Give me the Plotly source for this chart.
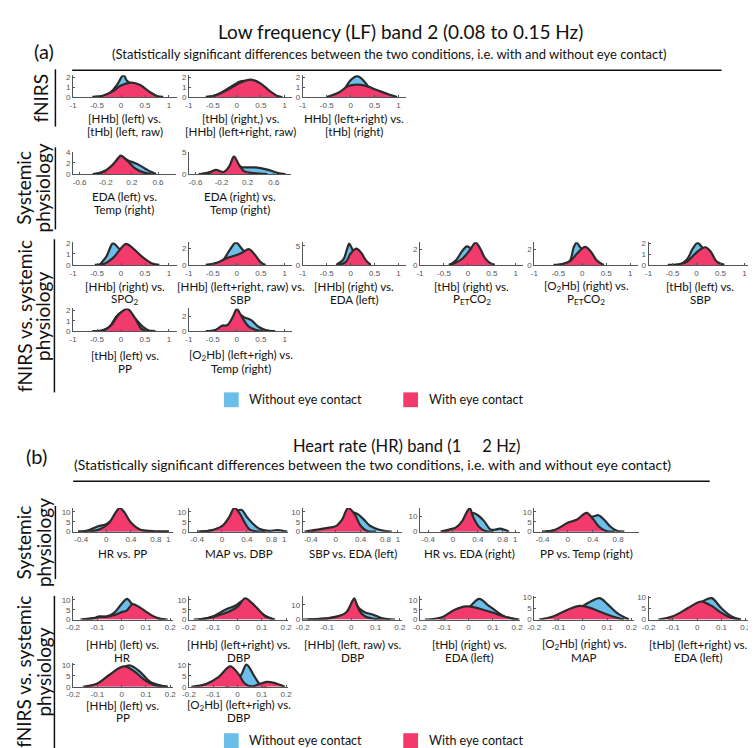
import plotly.graph_objects as go

# ------------------------------------------------------------------
# DATA  -- density outlines (x, y)
# ------------------------------------------------------------------
# Panel (a) fNIRS row
a_fnirs1_without = [(-0.55, 0), (-0.35, 0.1), (-0.22, 0.45), (-0.08, 1.25), (0.05, 2.2), (0.13, 1.6), (0.3, 1.1), (0.5, 0.4), (0.7, 0)]
a_fnirs1_with = [(-0.6, 0), (-0.4, 0.1), (-0.2, 0.5), (0.0, 1.15), (0.22, 1.45), (0.4, 1.2), (0.6, 0.5), (0.75, 0.1), (0.88, 0)]
a_fnirs2_without = [(-0.6, 0), (-0.4, 0.25), (-0.2, 0.8), (0.0, 1.4), (0.1, 1.6), (0.3, 1.5), (0.5, 0.9), (0.7, 0.2), (0.85, 0)]
a_fnirs2_with = [(-0.65, 0), (-0.45, 0.15), (-0.2, 0.7), (0.05, 1.4), (0.3, 1.75), (0.5, 1.35), (0.7, 0.55), (0.85, 0.1), (0.95, 0)]
a_fnirs3_without = [(-0.35, 0), (-0.15, 0.7), (0.0, 1.7), (0.14, 2.1), (0.28, 1.6), (0.45, 0.5), (0.6, 0)]
a_fnirs3_with = [(-0.5, 0), (-0.25, 0.45), (-0.05, 1.1), (0.12, 1.25), (0.3, 1.15), (0.55, 0.7), (0.8, 0.25), (0.97, 0)]
# Panel (a) systemic physiology row
a_sys1_without = [(-0.35, 0), (-0.1, 1.2), (0.05, 2.9), (0.15, 2.4), (0.28, 1.8), (0.4, 1.0), (0.5, 0.35), (0.57, 0)]
a_sys1_with = [(-0.4, 0), (-0.25, 0.3), (-0.1, 1.6), (0.0, 3.0), (0.03, 3.3), (0.12, 2.5), (0.25, 1.0), (0.4, 0.2), (0.5, 0)]
a_sys2_without = [(-0.5, 0), (-0.3, 0.6), (-0.15, 0.5), (0.0, 2.6), (0.1, 1.6), (0.2, 1.5), (0.35, 1.45), (0.5, 1.0), (0.65, 0.3), (0.78, 0)]
a_sys2_with = [(-0.55, 0), (-0.4, 0.2), (-0.29, 0.95), (-0.17, 0.45), (-0.08, 1.8), (-0.01, 3.9), (0.07, 2.0), (0.15, 0.6), (0.3, 0.2), (0.5, 0)]
# Panel (a) fNIRS vs. systemic physiology
a_mix1_without = [(-0.45, 0), (-0.3, 0.8), (-0.17, 1.95), (-0.05, 1.5), (0.1, 0.9), (0.3, 0.3), (0.5, 0)]
a_mix1_with = [(-0.55, 0), (-0.35, 0.1), (-0.15, 0.7), (0.0, 1.5), (0.1, 1.9), (0.25, 1.5), (0.45, 0.7), (0.65, 0.12), (0.8, 0)]
a_mix2_without = [(-0.5, 0), (-0.3, 0.5), (-0.15, 1.8), (-0.02, 2.7), (0.1, 2.0), (0.2, 1.2), (0.35, 0.4), (0.5, 0)]
a_mix2_with = [(-0.65, 0), (-0.4, 0.3), (-0.2, 0.85), (0.0, 1.2), (0.12, 1.5), (0.25, 1.92), (0.38, 1.2), (0.5, 0.3), (0.6, 0)]
a_mix3_without = [(-0.3, 0), (-0.15, 1.5), (-0.08, 4.0), (-0.03, 5.6), (0.02, 4.5), (0.1, 2.5), (0.25, 0.8), (0.35, 0)]
a_mix3_with = [(-0.25, 0), (-0.1, 0.8), (0.0, 3.0), (0.12, 4.3), (0.22, 3.2), (0.32, 1.2), (0.42, 0)]
a_mix4_without = [(-0.38, 0), (-0.25, 0.6), (-0.12, 1.8), (-0.02, 2.4), (0.08, 2.0), (0.2, 1.2), (0.35, 0.4), (0.5, 0)]
a_mix4_with = [(-0.4, 0), (-0.25, 0.3), (-0.1, 0.9), (0.05, 2.0), (0.16, 2.9), (0.25, 2.2), (0.35, 0.95), (0.45, 0.3), (0.56, 0)]
a_mix5_without = [(-0.35, 0), (-0.25, 0.6), (-0.18, 2.2), (-0.12, 2.83), (-0.05, 2.3), (0.05, 1.6), (0.2, 0.6), (0.35, 0)]
a_mix5_with = [(-0.6, 0), (-0.4, 0.15), (-0.25, 0.5), (-0.1, 1.5), (0.06, 2.3), (0.18, 1.7), (0.3, 0.6), (0.45, 0)]
a_mix6_without = [(-0.35, 0), (-0.2, 0.5), (-0.08, 1.5), (0.02, 2.03), (0.12, 1.6), (0.25, 0.8), (0.45, 0)]
a_mix6_with = [(-0.6, 0), (-0.4, 0.05), (-0.2, 0.3), (-0.05, 0.95), (0.1, 1.5), (0.19, 1.63), (0.3, 1.2), (0.42, 0.3), (0.58, 0)]
a_mix7_without = [(-0.45, 0), (-0.25, 0.4), (-0.1, 1.4), (0.0, 1.8), (0.15, 1.8), (0.3, 1.2), (0.45, 0.45), (0.6, 0)]
a_mix7_with = [(-0.6, 0), (-0.35, 0.1), (-0.2, 0.6), (-0.05, 1.6), (0.13, 2.15), (0.3, 1.2), (0.42, 0.25), (0.55, 0.05), (0.72, 0)]
a_mix8_without = [(-0.5, 0), (-0.3, 0.5), (-0.15, 1.0), (0.0, 2.4), (0.15, 1.9), (0.3, 1.5), (0.45, 0.6), (0.6, 0.15), (0.8, 0)]
a_mix8_with = [(-0.65, 0), (-0.45, 0.15), (-0.3, 0.75), (-0.2, 0.8), (-0.08, 2.0), (0.0, 3.0), (0.1, 2.0), (0.25, 0.6), (0.4, 0.15), (0.55, 0)]

# Panel (b) systemic physiology row
b_sys1_without = [(-0.45, 0), (-0.3, 0.6), (-0.15, 2.5), (0.0, 3.8), (0.1, 6), (0.2, 9), (0.35, 6), (0.5, 1.5), (0.7, 0.3), (1.0, 0)]
b_sys1_with = [(-0.45, 0), (-0.25, 0.2), (-0.1, 1.2), (0.05, 4.5), (0.15, 9.5), (0.22, 12), (0.3, 9.5), (0.4, 4.5), (0.55, 1.0), (0.75, 0.3), (1.0, 0)]
b_sys2_without = [(-0.35, 0), (-0.1, 1.0), (0.05, 3.0), (0.15, 6.5), (0.25, 10.5), (0.32, 11), (0.4, 7.5), (0.5, 4.0), (0.6, 1.5), (0.75, 0.4), (0.9, 0.8), (1.05, 0)]
b_sys2_with = [(-0.4, 0), (-0.2, 0.5), (0.0, 2.8), (0.12, 7.5), (0.2, 12), (0.28, 9.5), (0.36, 5), (0.45, 1.0), (0.55, 0.2), (0.7, 0)]
b_sys3_without = [(-0.45, 0), (-0.25, 0.8), (-0.05, 1.5), (0.1, 4.5), (0.25, 9.5), (0.35, 9.0), (0.45, 6.2), (0.55, 3.0), (0.7, 1.0), (0.9, 0)]
b_sys3_with = [(-0.5, 0), (-0.3, 1.0), (-0.15, 1.8), (0.0, 2.8), (0.1, 6), (0.2, 12), (0.3, 9), (0.4, 3), (0.5, 0.5), (0.65, 0)]
b_sys4_without = [(-0.15, 0), (0.0, 1.5), (0.15, 5), (0.25, 10), (0.33, 12), (0.4, 10.6), (0.5, 6.8), (0.6, 1.5), (0.68, 1.3), (0.76, 2.0), (0.9, 0)]
b_sys4_with = [(-0.2, 0), (-0.05, 1.5), (0.05, 2.8), (0.15, 7), (0.22, 12.5), (0.27, 15), (0.33, 9), (0.42, 3), (0.52, 0.4), (0.65, 0)]
b_sys5_without = [(-0.35, 0), (-0.1, 1.0), (0.1, 4), (0.3, 7), (0.42, 7.8), (0.49, 8.3), (0.58, 6), (0.68, 2.5), (0.78, 0.5), (0.9, 0)]
b_sys5_with = [(-0.4, 0), (-0.2, 1.0), (0.0, 4.5), (0.15, 6.2), (0.3, 9.5), (0.4, 6.5), (0.5, 2.5), (0.6, 0.5), (0.75, 0)]
# Panel (b) fNIRS vs. systemic physiology
b_mix1_without = [(-0.16, 0), (-0.12, 0.6), (-0.09, 1.6), (-0.06, 1.6), (-0.03, 3.5), (0.0, 8), (0.022, 10.5), (0.045, 7.5), (0.07, 5), (0.1, 3), (0.14, 0.8), (0.18, 0)]
b_mix1_with = [(-0.17, 0), (-0.12, 0.6), (-0.09, 1.3), (-0.06, 1.5), (-0.03, 2.3), (0.0, 3.8), (0.02, 4.5), (0.045, 7.8), (0.07, 6.5), (0.1, 4), (0.13, 1.7), (0.16, 0.4), (0.19, 0)]
b_mix2_without = [(-0.16, 0), (-0.1, 1.7), (-0.05, 5), (-0.01, 7), (0.03, 10), (0.06, 8), (0.1, 3), (0.15, 0)]
b_mix2_with = [(-0.18, 0), (-0.13, 0.5), (-0.09, 1.7), (-0.05, 3.3), (0.0, 6.5), (0.032, 10.8), (0.06, 8.3), (0.087, 5), (0.114, 1.7), (0.155, 0)]
b_mix3_without = [(-0.18, 0), (-0.1, 0.8), (-0.05, 2.0), (-0.02, 4.5), (0.0, 9), (0.015, 12), (0.03, 8), (0.055, 5), (0.09, 3.3), (0.125, 1.1), (0.18, 0)]
b_mix3_with = [(-0.2, 0), (-0.1, 0.8), (-0.05, 2.5), (-0.02, 5), (0.0, 11), (0.012, 14.4), (0.025, 9), (0.04, 4.5), (0.06, 2), (0.1, 0.5), (0.16, 0)]
b_mix4_without = [(-0.12, 0), (-0.05, 2), (0.0, 6), (0.044, 10.5), (0.078, 7.5), (0.11, 4.6), (0.15, 1.5), (0.2, 0)]
b_mix4_with = [(-0.18, 0), (-0.11, 1.2), (-0.057, 5), (-0.01, 6.7), (0.037, 5.8), (0.07, 4.6), (0.105, 3.3), (0.14, 1.8), (0.173, 0.8), (0.21, 0)]
b_mix5_without = [(-0.12, 0), (-0.05, 2.5), (0.0, 6), (0.04, 8.5), (0.07, 9.5), (0.1, 7), (0.14, 3), (0.19, 0)]
b_mix5_with = [(-0.18, 0), (-0.12, 1.5), (-0.06, 4.5), (-0.02, 6), (0.02, 5.5), (0.07, 3.5), (0.12, 1.5), (0.17, 0)]
b_mix6_without = [(-0.12, 0), (-0.05, 2.5), (0.0, 6.5), (0.04, 9), (0.06, 9.5), (0.1, 5), (0.14, 1.5), (0.18, 0)]
b_mix6_with = [(-0.16, 0), (-0.1, 1.5), (-0.04, 5), (0.0, 7.5), (0.02, 8), (0.06, 6), (0.1, 3), (0.14, 0.8), (0.18, 0)]
b_mix7_without = [(-0.15, 0), (-0.1, 1.3), (-0.05, 5), (0.0, 8.5), (0.035, 9.7), (0.077, 6.7), (0.118, 2.2), (0.19, 0)]
b_mix7_with = [(-0.16, 0), (-0.1, 1.5), (-0.05, 5.5), (0.008, 9.3), (0.05, 7.2), (0.09, 3.5), (0.13, 1.0), (0.19, 0)]
b_mix8_without = [(-0.05, 0), (-0.01, 2), (0.016, 5.5), (0.037, 10.1), (0.071, 4.5), (0.092, 1.2), (0.12, 0)]
b_mix8_with = [(-0.19, 0), (-0.13, 1.2), (-0.077, 4.5), (-0.03, 9.3), (0.003, 6), (0.03, 1.5), (0.06, 0.2), (0.09, 1.2), (0.12, 2.2), (0.15, 1.8), (0.195, 0)]

# Subplot captions
a_fnirs_labels = [("[HHb] (left) vs.", "[tHb] (left, raw)"), ("[tHb] (right,) vs.", "[HHb] (left+right, raw)"), ("HHb] (left+right) vs.", "[tHb] (right)")]
a_sys_labels = [("EDA (left) vs.", "Temp (right)"), ("EDA (right) vs.", "Temp (right)")]
a_mix_labels = [("[HHb] (right) vs.", "SPO<sub>2</sub>"), ("[HHb] (left+right, raw) vs.", "SBP"), ("[HHb] (right) vs.", "EDA (left)"),
                ("[tHb] (right) vs.", "P<sub>ET</sub>CO<sub>2</sub>"), ("[O<sub>2</sub>Hb] (right) vs.", "P<sub>ET</sub>CO<sub>2</sub>"), ("[tHb] (left) vs.", "SBP"),
                ("[tHb] (left) vs.", "PP"), ("[O<sub>2</sub>Hb] (left+righ) vs.", "Temp (right)")]
b_sys_labels = [("HR vs. PP",), ("MAP vs. DBP",), ("SBP vs. EDA (left)",), ("HR vs. EDA (right)",), ("PP vs. Temp (right)",)]
b_mix_labels = [("[HHb] (left) vs.", "HR"), ("[HHb] (left+right) vs.", "DBP"), ("[HHb] (left, raw) vs.", "DBP"),
                ("[tHb] (right) vs.", "EDA (left)"), ("[O<sub>2</sub>Hb] (right) vs.", "MAP"), ("[tHb] (left+right) vs.", "EDA (left)"),
                ("[HHb] (left) vs.", "PP"), ("[O<sub>2</sub>Hb] (left+righ) vs.", "DBP")]

# Axis tick sets
ticks_a = [-1, -0.5, 0, 0.5, 1]
ticks_a_sys = [-0.6, -0.2, 0.2, 0.6]
ticks_b_sys = [-0.4, 0, 0.4, 0.8, 1]
ticks_b_sys5 = [-0.4, 0, 0.4, 0.8]
ticks_b_mix = [-0.2, -0.1, 0, 0.1, 0.2]

legend_names = ["Without eye contact", "With eye contact"]

# ------------------------------------------------------------------
# LAYOUT (pixel geometry)
# ------------------------------------------------------------------
W, H = 756, 748
BLUE = "#6CBEEA"
RED = "#F23B6C"
EDGE = "#2B2B2B"
TICKC = "#555555"
FONT = "Lato"
CAP = 11.6

COLS = [59, 176.5, 292, 411, 527, 643]
# row: baseline y, top y, caption line1 y, caption line2 y
ROWS = {
    "A1": (86, 64, 107.5, 120.5),
    "A2": (164, 141.5, 186.5, 199.5),
    "A3": (256, 233, 277.5, 290.5),
    "A4": (323, 300, 347.5, 360.5),
    "B1": (526, 502, 548, None),
    "B2": (615, 591, 640.5, 653.5),
    "B3": (683, 659, 701.5, 714.5),
}

XR_A = [-1, 1.16]
XR_AS = [-0.7, 0.87]
XR_BS = [-0.53, 1.07]
XR_BS5 = [-0.53, 1.13]
XR_BM = [-0.2, 0.21]


def fmt(v):
    return "%g" % v


panels = [
    # row, col, width, xrange, xticks, ymax, yticks, without, with, caption
    ("A1", 0, 105, XR_A, ticks_a, 2.2, [0, 1, 2], a_fnirs1_without, a_fnirs1_with, a_fnirs_labels[0]),
    ("A1", 1, 105, XR_A, ticks_a, 2.2, [0, 1, 2], a_fnirs2_without, a_fnirs2_with, a_fnirs_labels[1]),
    ("A1", 2, 105, XR_A, ticks_a, 2.2, [0, 1, 2], a_fnirs3_without, a_fnirs3_with, a_fnirs_labels[2]),
    ("A2", 0, 104, XR_AS, ticks_a_sys, 4, [0, 2, 4], a_sys1_without, a_sys1_with, a_sys_labels[0]),
    ("A2", 1, 104, XR_AS, ticks_a_sys, 5, [0, 5], a_sys2_without, a_sys2_with, a_sys_labels[1]),
    ("A3", 0, 105, XR_A, ticks_a, 2.05, [0, 1, 2], a_mix1_without, a_mix1_with, a_mix_labels[0]),
    ("A3", 1, 105, XR_A, ticks_a, 2.75, [0, 2], a_mix2_without, a_mix2_with, a_mix_labels[1]),
    ("A3", 2, 105, XR_A, ticks_a, 6, [0, 5], a_mix3_without, a_mix3_with, a_mix_labels[2]),
    ("A3", 3, 105, XR_A, ticks_a, 2.95, [0, 2], a_mix4_without, a_mix4_with, a_mix_labels[3]),
    ("A3", 4, 105, XR_A, ticks_a, 2.9, [0, 2], a_mix5_without, a_mix5_with, a_mix_labels[4]),
    ("A3", 5, 105, XR_A, ticks_a, 2.1, [0, 1, 2], a_mix6_without, a_mix6_with, a_mix_labels[5]),
    ("A4", 0, 105, XR_A, ticks_a, 2.2, [0, 1, 2], a_mix7_without, a_mix7_with, a_mix_labels[6]),
    ("A4", 1, 105, XR_A, ticks_a, 3.1, [0, 2], a_mix8_without, a_mix8_with, a_mix_labels[7]),
    ("B1", 0, 101, XR_BS, ticks_b_sys, 12, [0, 5, 10], b_sys1_without, b_sys1_with, b_sys_labels[0]),
    ("B1", 1, 101, XR_BS, ticks_b_sys, 12, [0, 5, 10], b_sys2_without, b_sys2_with, b_sys_labels[1]),
    ("B1", 2, 101, XR_BS, ticks_b_sys, 12, [0, 5, 10], b_sys3_without, b_sys3_with, b_sys_labels[2]),
    ("B1", 3, 101, XR_BS, ticks_b_sys, 15.3, [0, 10], b_sys4_without, b_sys4_with, b_sys_labels[3]),
    ("B1", 4, 106, XR_BS5, ticks_b_sys5, 12, [0, 5, 10], b_sys5_without, b_sys5_with, b_sys_labels[4]),
    ("B2", 0, 101, XR_BM, ticks_b_mix, 12, [0, 5, 10], b_mix1_without, b_mix1_with, b_mix_labels[0]),
    ("B2", 1, 101, XR_BM, ticks_b_mix, 12, [0, 5, 10], b_mix2_without, b_mix2_with, b_mix_labels[1]),
    ("B2", 2, 101, XR_BM, ticks_b_mix, 16, [0, 10], b_mix3_without, b_mix3_with, b_mix_labels[2]),
    ("B2", 3, 101, XR_BM, ticks_b_mix, 12, [0, 5, 10], b_mix4_without, b_mix4_with, b_mix_labels[3]),
    ("B2", 4, 101, XR_BM, ticks_b_mix, 10.5, [0, 5, 10], b_mix5_without, b_mix5_with, b_mix_labels[4]),
    ("B2", 5, 101, XR_BM, ticks_b_mix, 10.5, [0, 5, 10], b_mix6_without, b_mix6_with, b_mix_labels[5]),
    ("B3", 0, 101, XR_BM, ticks_b_mix, 10.8, [0, 5, 10], b_mix7_without, b_mix7_with, b_mix_labels[6]),
    ("B3", 1, 101, XR_BM, ticks_b_mix, 10.8, [0, 5, 10], b_mix8_without, b_mix8_with, b_mix_labels[7]),
]


def px(x):
    return x / W


def py(y):
    return 1 - y / H


fig = go.Figure()
layout = dict(
    width=W, height=H, margin=dict(l=0, r=0, t=0, b=0),
    paper_bgcolor="white", plot_bgcolor="rgba(0,0,0,0)",
    showlegend=False, font=dict(family=FONT, color="#111"),
)
annotations = []
shapes = []

for i, (row, col, wpx, xr, xt, ymax, yt, wo, wi, cap) in enumerate(panels, start=1):
    base, top, c1, c2 = ROWS[row]
    x0 = COLS[col]
    x1 = x0 + wpx
    sfx = "" if i == 1 else str(i)
    for series, color in ((wo, BLUE), (wi, RED)):
        fig.add_trace(go.Scatter(
            x=[p[0] for p in series], y=[p[1] for p in series],
            mode="lines", fill="tozeroy", fillcolor=color,
            line=dict(color=EDGE, width=2.2, shape="spline", smoothing=1.0),
            xaxis="x" + sfx, yaxis="y" + sfx, hoverinfo="skip", showlegend=False,
        ))
    layout["xaxis" + sfx] = dict(
        domain=[px(x0), px(x1)], anchor="y" + sfx, range=xr,
        tickvals=xt, ticktext=[fmt(v) for v in xt],
        showline=True, linecolor=TICKC, linewidth=1, ticks="inside", ticklen=2, tickcolor=TICKC,
        tickfont=dict(size=8, color=TICKC, family="Liberation Sans"),
        showgrid=False, zeroline=False, fixedrange=True,
    )
    layout["yaxis" + sfx] = dict(
        domain=[py(base), py(top)], anchor="x" + sfx, range=[0, ymax],
        tickvals=yt, ticktext=[fmt(v) for v in yt],
        showline=True, linecolor=TICKC, linewidth=1, ticks="inside", ticklen=2, tickcolor=TICKC,
        tickfont=dict(size=8, color=TICKC, family="Liberation Sans"),
        showgrid=False, zeroline=False, fixedrange=True,
    )
    cx = (x0 + x1) / 2
    for txt, yy in zip(cap, [c1, c2]):
        annotations.append(dict(
            x=px(cx), y=py(yy), xref="paper", yref="paper", text=txt, showarrow=False,
            xanchor="center", yanchor="middle", font=dict(size=CAP, family=FONT, color="#111"),
        ))


def text(x, y, s, size, angle=0, xanchor="center"):
    annotations.append(dict(x=px(x), y=py(y), xref="paper", yref="paper", text=s, showarrow=False,
                            xanchor=xanchor, yanchor="middle", textangle=angle,
                            font=dict(size=size, family=FONT, color="#111")))


def hline(x0, x1, y, w=1.5):
    shapes.append(dict(type="line", xref="paper", yref="paper", x0=px(x0), x1=px(x1), y0=py(y), y1=py(y),
                       line=dict(color="#111", width=w)))


def vline(x, y0, y1, w=1.5):
    shapes.append(dict(type="line", xref="paper", yref="paper", x0=px(x), x1=px(x), y0=py(y0), y1=py(y1),
                       line=dict(color="#111", width=w)))


def square(x0, y0, size, color):
    shapes.append(dict(type="rect", xref="paper", yref="paper", x0=px(x0), x1=px(x0 + size),
                       y0=py(y0), y1=py(y0 + size), line=dict(width=0), fillcolor=color))


# Panel (a) headers
text(29, 39, "(a)", 20)
text(391, 20, "Low frequency (LF) band 2 (0.08 to 0.15 Hz)", 19)
text(380, 43, "(Statistically significant differences between the two conditions, i.e. with and without eye contact)", 13)
hline(58, 717, 59)
# Panel (b) headers
text(22, 449, "(b)", 20)
text(397, 439, "Heart rate (HR) band (1\u00a0\u00a0\u00a0\u00a0\u00a02 Hz)", 16.5)
text(363, 458, "(Statistically significant differences between the two conditions, i.e. with and without eye contact)", 14)
hline(59, 705, 475)

# Group labels (rotated)
GL = 19
text(26, 87, "fNIRS", GL, -90)
vline(41, 58, 116)
text(9, 178, "Systemic", GL, -90)
text(28, 178, "physiology", GL, -90)
vline(41, 137, 220)
text(9, 308, "fNIRS vs. systemic", GL, -90)
text(28, 308, "physiology", GL, -90)
vline(40, 230, 385)
text(9, 537, "Systemic", GL, -90)
text(29, 537, "physiology", GL, -90)
vline(41, 500, 574)
text(9, 668, "fNIRS vs. systemic", GL, -90)
text(29, 668, "physiology", GL, -90)
vline(40, 591, 745)

# Legends
for ly in (392, 737):
    square(212, ly - 7, 15, BLUE)
    text(235, ly, legend_names[0], 12.5, xanchor="left")
    square(394, ly - 7, 15, RED)
    text(418, ly, legend_names[1], 12.5, xanchor="left")

layout["annotations"] = annotations
layout["shapes"] = shapes
fig.update_layout(**layout)
fig.write_html("out.html")
